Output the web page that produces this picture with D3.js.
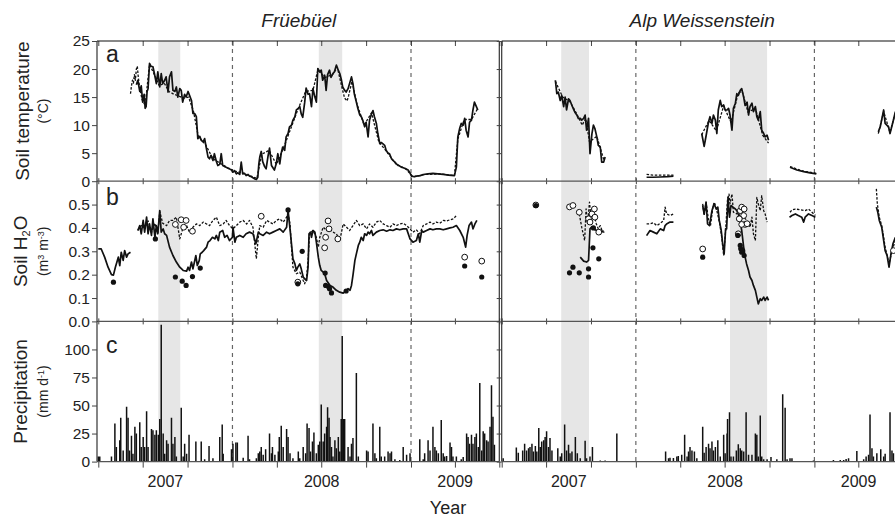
<!DOCTYPE html>
<html lang="en">
<head>
<meta charset="UTF-8">
<title>Soil temperature, soil water and precipitation</title>
<script src="https://d3js.org/d3.v7.min.js"></script>
<style>
    body { margin: 0; background: #fff; }
    svg { display: block; font-family: "Liberation Sans", Arial, sans-serif; }
    .tick text { font-size: 15.5px; fill: #222; }
    .tick line, .domain { stroke: #444; }
</style>
</head>
<body>
<svg id="chart" width="895" height="519"></svg>
<script>
// all x values are days counted from 1 Jan 2007
const sites = ["Früebüel", "Alp Weissenstein"];
const panelLetters = ["a", "b", "c"];
const yearLabels = [2007, 2008, 2009];
const yearBreaks = [365, 731];
const dayDomain = [90, 912];
const tempTicks = [0, 5, 10, 15, 20, 25];
const h2oTicks = [0, 0.1, 0.2, 0.3, 0.4, 0.5];
const rainTicks = [0, 25, 50, 75, 100];
const droughtFru = [[213, 258], [542, 590]];
const droughtWei = [[212, 269], [558, 634]];

// Früebüel soil temperature
const fruTempSolid = [[
    [168, 17.2], [171, 18.0], [175, 16.0], [178, 17.0], [181, 14.1], [184, 15.5], [186, 13.0], [188, 13.3],
    [190, 16.0], [192, 16.5], [195, 21.0], [198, 20.5], [202, 20.4], [205, 19.2], [209, 17.4], [212, 19.5],
    [216, 16.8], [219, 19.2], [222, 17.4], [226, 18.0], [229, 18.6], [233, 15.9], [236, 18.6], [240, 19.5],
    [243, 16.2], [247, 16.0], [250, 16.8], [253, 15.0], [257, 16.5], [260, 16.2], [263, 14.1], [267, 15.5],
    [270, 15.0], [274, 16.0], [277, 15.3], [281, 14.4], [284, 12.1], [288, 12.0], [291, 11.5], [294, 7.6],
    [298, 8.0], [301, 7.3], [305, 7.0], [308, 7.6], [311, 6.1], [315, 4.3], [318, 4.0], [321, 4.6],
    [325, 3.7], [328, 4.9], [332, 3.5], [335, 2.8], [339, 3.0], [342, 4.9], [345, 2.8], [349, 2.6],
    [352, 2.5], [356, 2.3], [359, 2.2], [363, 2.0], [366, 1.6], [369, 1.9], [373, 1.3], [376, 1.5],
    [380, 1.2], [383, 3.4], [386, 1.3], [390, 1.4], [393, 1.0], [397, 1.2], [400, 0.9], [404, 0.8],
    [407, 0.6], [411, 0.4], [414, 0.3], [417, 0.7], [419, 3.0], [421, 4.3], [424, 5.3], [427, 3.5],
    [431, 2.6], [434, 2.2], [438, 4.5], [441, 5.9], [445, 2.8], [448, 2.4], [451, 2.0], [455, 3.2],
    [458, 4.9], [462, 3.1], [465, 5.0], [468, 6.1], [472, 5.5], [475, 7.9], [479, 8.5], [482, 9.7],
    [486, 10.0], [489, 10.9], [493, 11.5], [496, 12.7], [500, 13.0], [503, 13.3], [506, 12.0], [509, 11.4],
    [513, 14.0], [516, 16.6], [520, 15.5], [523, 15.6], [527, 13.3], [530, 16.5], [534, 15.0], [537, 14.1],
    [540, 20.1], [544, 19.5], [547, 19.8], [550, 18.0], [554, 18.9], [557, 16.2], [560, 19.0], [564, 19.8],
    [567, 18.5], [571, 19.2], [574, 19.5], [578, 20.7], [581, 20.0], [585, 19.2], [588, 18.2], [591, 16.8],
    [595, 16.2], [598, 15.9], [602, 16.5], [605, 17.4], [609, 18.6], [612, 17.4], [615, 15.5], [619, 14.1],
    [622, 13.0], [626, 11.8], [629, 11.5], [632, 10.9], [636, 9.7], [639, 10.5], [643, 7.9], [646, 10.9],
    [650, 12.0], [653, 12.6], [656, 11.5], [660, 10.3], [663, 8.5], [667, 6.7], [670, 6.9], [673, 6.7],
    [677, 6.4], [680, 5.5], [684, 5.0], [687, 4.9], [691, 4.0], [694, 3.7], [698, 3.4], [701, 3.1],
    [705, 2.8], [708, 2.7], [711, 2.5], [715, 2.4], [718, 2.3], [721, 2.2], [725, 2.0], [728, 1.6],
    [732, 0.9], [738, 0.8], [742, 0.9], [750, 1.0], [756, 1.2], [766, 1.3], [776, 1.4], [786, 1.3],
    [797, 1.2], [808, 1.1], [820, 1.0], [824, 2.5], [827, 7.9], [831, 9.5], [834, 10.3], [838, 10.0],
    [841, 11.2], [844, 9.1], [848, 7.9], [851, 10.5], [855, 10.9], [858, 12.7], [861, 14.1], [865, 13.3], [868, 12.7]
]];
const fruTempDotted = [[
    [156, 15.6], [158, 17.0], [160, 18.0], [162, 17.5], [164, 19.0], [166, 18.0], [168, 20.0], [170, 20.5],
    [172, 18.5], [175, 16.5], [180, 14.5], [186, 13.5], [195, 20.8], [205, 19.0], [215, 17.0], [225, 17.5],
    [235, 16.0], [245, 15.5], [255, 15.2], [265, 14.8], [275, 15.0], [285, 12.5], [295, 8.0], [310, 6.5],
    [325, 4.0], [340, 3.2], [355, 2.4], [370, 1.8], [385, 1.5], [400, 1.0], [415, 0.5], [425, 4.8],
    [440, 5.5], [455, 3.0], [470, 6.0], [485, 9.5], [500, 13.0], [515, 16.0], [530, 16.2], [540, 19.8],
    [555, 18.5], [570, 19.0], [580, 20.3], [590, 16.5], [595, 14.8], [600, 14.3], [603, 15.2], [610, 17.8],
    [620, 13.8], [635, 10.0], [650, 12.2], [665, 7.0], [680, 5.4], [700, 3.1], [720, 2.2], [735, 0.8],
    [760, 1.2], [790, 1.3], [820, 1.0], [827, 7.5], [840, 11.0], [855, 11.0], [868, 13.0]
]];

// Früebüel soil water
const fruH2OSolid = [[
    [90, 0.31], [96, 0.31], [103, 0.275], [110, 0.232], [117, 0.20], [121, 0.198], [125, 0.232], [131, 0.275],
    [134, 0.239], [137, 0.296], [141, 0.261], [144, 0.303], [148, 0.275], [151, 0.289], [156, 0.296]
], [
    [171, 0.389], [175, 0.41], [178, 0.375], [182, 0.432], [185, 0.382], [189, 0.446], [192, 0.375], [195, 0.417],
    [199, 0.368], [202, 0.439], [206, 0.36], [209, 0.41], [212, 0.375], [216, 0.474], [219, 0.382], [223, 0.396],
    [226, 0.375], [230, 0.368], [236, 0.318], [243, 0.282], [250, 0.254], [257, 0.232], [264, 0.218], [271, 0.215],
    [274, 0.232], [277, 0.218], [281, 0.254], [284, 0.225], [290, 0.282], [293, 0.239], [297, 0.261], [299, 0.289],
    [303, 0.296], [306, 0.303], [312, 0.318], [315, 0.339], [319, 0.346], [324, 0.36], [329, 0.353], [332, 0.368],
    [336, 0.346], [339, 0.382], [345, 0.389], [349, 0.36], [354, 0.368], [359, 0.346], [365, 0.36], [366, 0.403],
    [370, 0.339], [373, 0.36], [380, 0.368], [387, 0.36], [393, 0.375], [400, 0.382], [407, 0.375], [413, 0.332],
    [418, 0.382], [421, 0.375], [428, 0.368], [435, 0.382], [441, 0.375], [448, 0.382], [455, 0.389], [462, 0.396],
    [469, 0.382], [476, 0.403], [479, 0.474], [483, 0.396], [486, 0.332], [489, 0.268], [493, 0.246], [496, 0.218],
    [499, 0.232], [503, 0.246], [506, 0.225], [510, 0.19], [513, 0.182], [517, 0.175], [520, 0.232], [522, 0.375],
    [525, 0.382], [527, 0.36], [530, 0.389], [534, 0.382], [537, 0.339], [541, 0.275], [544, 0.239], [547, 0.218],
    [551, 0.211], [554, 0.204], [558, 0.175], [565, 0.154], [571, 0.147], [578, 0.133], [585, 0.125], [592, 0.121],
    [599, 0.133], [602, 0.14], [606, 0.133], [609, 0.154], [612, 0.197], [616, 0.261], [619, 0.289], [623, 0.325],
    [626, 0.339], [629, 0.36], [633, 0.346], [636, 0.375], [640, 0.368], [643, 0.382], [646, 0.375], [650, 0.389],
    [653, 0.368], [660, 0.382], [667, 0.389], [674, 0.392], [681, 0.386], [688, 0.392], [694, 0.389], [701, 0.396],
    [708, 0.392], [715, 0.396], [722, 0.396], [729, 0.353], [735, 0.339], [742, 0.346], [746, 0.375], [749, 0.339],
    [753, 0.389], [756, 0.382], [763, 0.389], [770, 0.396], [776, 0.392], [783, 0.396], [790, 0.396], [797, 0.392],
    [804, 0.396], [811, 0.4], [817, 0.403], [824, 0.41], [831, 0.389], [838, 0.36], [843, 0.318], [846, 0.368],
    [850, 0.41], [855, 0.425], [858, 0.396], [862, 0.417], [866, 0.432]
]];
const fruH2ODotted = [[
    [171, 0.39], [178, 0.41], [185, 0.40], [192, 0.43], [199, 0.38], [206, 0.42], [212, 0.38], [216, 0.47],
    [222, 0.42], [230, 0.41], [236, 0.432], [243, 0.432], [250, 0.446], [257, 0.353], [264, 0.403], [271, 0.41],
    [277, 0.382], [284, 0.403], [291, 0.417], [298, 0.41], [305, 0.425], [312, 0.417], [318, 0.41], [325, 0.432],
    [332, 0.446], [339, 0.41], [346, 0.417], [352, 0.432], [359, 0.41], [366, 0.396], [373, 0.41], [380, 0.425],
    [387, 0.432], [394, 0.417], [400, 0.432], [407, 0.403], [414, 0.268], [418, 0.36], [421, 0.41], [428, 0.403],
    [435, 0.432], [441, 0.425], [448, 0.417], [455, 0.432], [462, 0.439], [469, 0.425], [476, 0.446], [479, 0.46],
    [483, 0.417], [486, 0.318], [489, 0.232], [496, 0.204], [503, 0.211], [510, 0.175], [513, 0.161], [517, 0.19],
    [520, 0.261], [523, 0.375], [530, 0.389], [537, 0.36], [541, 0.318], [544, 0.36], [551, 0.403], [558, 0.389],
    [564, 0.396], [571, 0.382], [578, 0.375], [585, 0.346], [592, 0.417], [599, 0.403], [605, 0.389], [612, 0.41],
    [619, 0.432], [626, 0.41], [633, 0.417], [640, 0.396], [646, 0.417], [653, 0.403], [660, 0.425], [667, 0.432],
    [674, 0.417], [681, 0.41], [688, 0.403], [694, 0.417], [701, 0.41], [708, 0.417], [715, 0.42], [722, 0.41],
    [729, 0.396], [735, 0.382], [742, 0.392], [749, 0.375], [756, 0.41], [763, 0.417], [770, 0.425], [776, 0.417],
    [783, 0.425], [790, 0.42], [797, 0.432], [804, 0.43], [811, 0.435], [818, 0.439], [824, 0.453]
]];
const fruH2OFilled = [
    [121, 0.168], [207, 0.353], [248, 0.19], [262, 0.172], [270, 0.154], [283, 0.192], [299, 0.228], [479, 0.477],
    [499, 0.161], [508, 0.30], [555, 0.207], [556, 0.154], [561, 0.15], [564, 0.14], [568, 0.122], [598, 0.13],
    [841, 0.237], [876, 0.19]
];
const fruH2OOpen = [
    [248, 0.415], [260, 0.435], [265, 0.403], [270, 0.432], [283, 0.386], [424, 0.45], [499, 0.168], [554, 0.315],
    [556, 0.36], [561, 0.43], [563, 0.396], [581, 0.353], [841, 0.275], [876, 0.258]
];

// Früebüel precipitation, mm per day
const fruRain = [
    [90, 4.5], [93, 4.5], [117, 4.5], [124, 34], [127, 13], [134, 19], [136, 39], [141, 10], [148, 49], [151, 39],
    [154, 10], [158, 23], [161, 7], [165, 31], [168, 25], [175, 35], [178, 13], [182, 22], [185, 13], [189, 45],
    [192, 13], [199, 29], [202, 28], [206, 24], [209, 28], [213, 24], [216, 38], [219, 122], [223, 25], [226, 7],
    [230, 19], [233, 16], [240, 39], [243, 16], [247, 22], [250, 4.5], [260, 48], [264, 4.5], [267, 16], [271, 7],
    [276, 24], [290, 18], [301, 18], [308, 2], [317, 14], [325, 3], [339, 22], [344, 33], [346, 7], [363, 11],
    [366, 16], [372, 17], [375, 17], [387, 3.5], [397, 23], [400, 2], [414, 3], [418, 7.4], [421, 9], [424, 13],
    [428, 6], [433, 11], [441, 25], [445, 7.4], [447, 13], [452, 6], [459, 9], [461, 22], [465, 32], [469, 13],
    [476, 29], [479, 22], [483, 7.4], [489, 3], [500, 9], [503, 3], [510, 13], [515, 7.4], [518, 34], [522, 30],
    [525, 9], [529, 18], [532, 26], [537, 7.4], [541, 15], [544, 18], [547, 51], [551, 18], [554, 25], [558, 31],
    [560, 48.5], [563, 39], [565, 22], [568, 13], [571, 4.5], [575, 19], [578, 12], [582, 22], [585, 9], [588, 38],
    [590, 112], [593, 38], [595, 38], [602, 13], [606, 4.5], [609, 16], [612, 21], [619, 79], [623, 4.5], [640, 10],
    [643, 9], [653, 34], [657, 7.4], [660, 3], [667, 31], [670, 4.5], [677, 4.5], [684, 9], [688, 7.4], [691, 9],
    [698, 2], [708, 1.5], [715, 13], [722, 6], [729, 7.4], [749, 20], [756, 2], [759, 7.4], [766, 19], [770, 10],
    [776, 31], [780, 13], [783, 10], [787, 7.4], [793, 37], [797, 7.4], [800, 4.5], [804, 5], [811, 17], [814, 13],
    [817, 4.5], [824, 4.5], [834, 2], [838, 4], [845, 25], [848, 22], [851, 16], [855, 24], [858, 16], [862, 22],
    [865, 25], [869, 13], [872, 70], [876, 10], [879, 27], [882, 25], [886, 19], [889, 18], [893, 31], [896, 68],
    [899, 40], [902, 15]
];

// Alp Weissenstein soil temperature
const weiTempSolid = [[
    [200, 18.0], [203, 15.6], [206, 15.9], [210, 14.4], [213, 15.3], [217, 13.3], [220, 15.0], [223, 12.7],
    [227, 14.7], [230, 14.4], [234, 13.5], [237, 12.9], [240, 12.3], [244, 11.8], [247, 11.2], [251, 11.2],
    [254, 10.9], [258, 11.2], [261, 11.8], [264, 9.1], [268, 11.2], [271, 4.9], [275, 8.5], [278, 10.0],
    [281, 9.4], [285, 7.9], [288, 6.4], [292, 6.1], [295, 3.4], [299, 3.4], [302, 4.3]
], [
    [387, 0.7], [400, 0.7], [415, 0.75], [430, 0.8], [442, 0.9]
], [
    [500, 8.5], [505, 6.2], [509, 8.1], [514, 10.6], [517, 11.5], [521, 10.3], [524, 11.8], [528, 10.9],
    [531, 8.5], [534, 12.7], [538, 14.4], [541, 13.3], [545, 13.6], [548, 12.7], [552, 12.7], [555, 13.0],
    [558, 11.8], [562, 9.1], [565, 13.0], [569, 13.9], [572, 15.6], [575, 15.3], [579, 16.2], [582, 16.5],
    [586, 15.0], [589, 13.5], [593, 14.1], [596, 11.8], [599, 13.3], [603, 13.9], [606, 12.4], [610, 13.3],
    [613, 11.5], [616, 10.9], [620, 12.4], [623, 9.1], [627, 8.5], [630, 7.9], [634, 8.2], [637, 7.3]
], [
    [681, 2.5], [695, 2.0], [709, 1.7], [722, 1.5], [735, 1.3]
], [
    [862, 8.8], [866, 9.7], [873, 12.7], [876, 10.3], [883, 9.7], [886, 8.5], [893, 10.9], [897, 12.4]
]];
const weiTempDotted = [[
    [200, 17.8], [215, 15.0], [230, 14.2], [245, 11.8], [255, 10.0], [262, 11.2], [270, 7.0], [285, 8.0], [300, 3.6]
], [
    [387, 1.2], [400, 1.1], [415, 1.1], [430, 1.1], [442, 1.1]
], [
    [500, 8.3], [515, 10.8], [530, 9.0], [545, 13.4], [560, 10.5], [575, 15.8], [583, 16.0], [595, 12.3],
    [610, 13.0], [625, 8.2], [637, 6.8]
], [
    [681, 2.6], [708, 1.8], [735, 1.4]
], [
    [862, 8.5], [873, 12.4], [886, 8.7], [897, 12.2]
]];

// Alp Weissenstein soil water
const weiH2OSolid = [[
    [251, 0.275], [258, 0.258], [264, 0.254], [268, 0.261], [271, 0.396], [275, 0.406], [278, 0.396], [285, 0.389],
    [292, 0.386], [299, 0.386]
], [
    [387, 0.367], [394, 0.389], [401, 0.382], [408, 0.375], [415, 0.396], [422, 0.389], [425, 0.41], [428, 0.417],
    [435, 0.425], [442, 0.425]
], [
    [502, 0.496], [505, 0.46], [509, 0.51], [512, 0.417], [516, 0.41], [521, 0.474], [525, 0.503], [530, 0.481],
    [533, 0.489], [536, 0.432], [540, 0.389], [543, 0.332], [546, 0.289], [549, 0.396], [551, 0.396], [554, 0.531],
    [557, 0.446], [560, 0.496], [564, 0.489], [569, 0.481], [572, 0.474], [575, 0.46], [579, 0.425], [582, 0.389],
    [586, 0.318], [589, 0.275], [592, 0.246], [596, 0.218], [599, 0.19], [603, 0.175], [606, 0.154], [610, 0.133],
    [613, 0.104], [616, 0.075], [620, 0.097], [623, 0.09], [627, 0.104], [630, 0.09], [634, 0.104], [637, 0.09]
], [
    [680, 0.446], [685, 0.453], [692, 0.46], [698, 0.453], [705, 0.446], [709, 0.425], [712, 0.446], [719, 0.46],
    [726, 0.453], [733, 0.446]
], [
    [858, 0.489], [861, 0.467], [864, 0.432], [869, 0.403], [873, 0.346], [876, 0.303], [880, 0.282], [884, 0.232],
    [888, 0.289], [892, 0.332], [897, 0.36]
]];
const weiH2ODotted = [[
    [249, 0.46], [254, 0.403], [260, 0.346], [263, 0.481], [266, 0.417], [270, 0.51], [273, 0.446], [278, 0.467],
    [284, 0.417], [288, 0.396], [292, 0.41], [297, 0.382], [302, 0.382]
], [
    [387, 0.417], [394, 0.417], [401, 0.422], [408, 0.41], [415, 0.42], [422, 0.432], [425, 0.489], [428, 0.46],
    [435, 0.453], [442, 0.46]
], [
    [502, 0.503], [505, 0.453], [509, 0.51], [514, 0.432], [518, 0.41], [523, 0.489], [526, 0.51], [531, 0.474],
    [537, 0.417], [541, 0.36], [545, 0.282], [549, 0.389], [553, 0.524], [556, 0.545], [558, 0.503], [562, 0.545],
    [565, 0.467], [572, 0.46], [575, 0.474], [579, 0.432], [586, 0.446], [593, 0.432], [599, 0.403], [603, 0.446],
    [606, 0.375], [610, 0.346], [613, 0.531], [616, 0.503], [620, 0.474], [623, 0.538], [627, 0.474], [630, 0.46],
    [634, 0.425]
], [
    [681, 0.467], [685, 0.477], [692, 0.481], [702, 0.478], [712, 0.474], [719, 0.481], [726, 0.467], [733, 0.453]
], [
    [858, 0.567], [860, 0.503], [864, 0.446], [869, 0.41], [873, 0.36], [876, 0.318], [881, 0.275], [884, 0.246],
    [890, 0.303], [897, 0.346]
]];
const weiH2OFilled = [
    [160, 0.496], [229, 0.208], [236, 0.232], [249, 0.208], [268, 0.225], [268, 0.19], [277, 0.315], [278, 0.4],
    [289, 0.268], [502, 0.275], [574, 0.368], [579, 0.325], [580, 0.311], [582, 0.296], [584, 0.303], [587, 0.282]
];
const weiH2OOpen = [
    [160, 0.498], [229, 0.49], [236, 0.496], [249, 0.467], [268, 0.439], [271, 0.425], [275, 0.46], [280, 0.481],
    [281, 0.446], [289, 0.382], [502, 0.31], [575, 0.375], [579, 0.474], [582, 0.489], [586, 0.453], [589, 0.415],
    [582, 0.415], [577, 0.439], [587, 0.481], [593, 0.418], [893, 0.303]
];

// Alp Weissenstein precipitation, mm per day
const weiRain = [
    [93, 3], [120, 12.5], [124, 8], [133, 10], [137, 16], [141, 10], [145, 12], [148, 13], [152, 16], [155, 9],
    [159, 14], [162, 9], [166, 30], [169, 13], [172, 18], [176, 19], [179, 22], [182, 27], [186, 13], [189, 21],
    [193, 10], [205, 12], [210, 4.5], [213, 7.4], [219, 33], [223, 10], [227, 15], [230, 7.4], [234, 9], [241, 22],
    [245, 7.4], [251, 3], [261, 18.5], [264, 3], [271, 4.5], [276, 13], [292, 1], [302, 1], [326, 25], [340, 0.5],
    [426, 9], [432, 3], [435, 3.5], [442, 3.3], [449, 4.5], [452, 5], [459, 6], [465, 24], [470, 4.5], [473, 9],
    [476, 13], [480, 10], [485, 9], [490, 3], [502, 31], [505, 8], [509, 13], [514, 16], [517, 12], [521, 18],
    [524, 10], [528, 13], [533, 19], [538, 4.5], [545, 24], [548, 7.4], [552, 25], [553, 38], [557, 44], [560, 4.5],
    [565, 4.5], [571, 10], [575, 15.5], [579, 12], [582, 10], [586, 9], [591, 44], [596, 6], [603, 6], [610, 25],
    [613, 24], [616, 4.5], [620, 41], [623, 4.5], [627, 2], [634, 2], [642, 4], [654, 2], [666, 60], [671, 48],
    [675, 2], [681, 3], [685, 3], [729, 1], [770, 1.5], [784, 1.5], [791, 1.5], [796, 2.4], [801, 3], [818, 9.5],
    [832, 2], [837, 4.5], [842, 6], [845, 42], [849, 12], [852, 4.5], [859, 7.4], [867, 11], [873, 4.5], [876, 7],
    [886, 44], [890, 10], [893, 7.4]
];

const siteData = [
    { name: sites[0], bands: droughtFru, tempSolid: fruTempSolid, tempDotted: fruTempDotted,
      h2oSolid: fruH2OSolid, h2oDotted: fruH2ODotted, filled: fruH2OFilled, open: fruH2OOpen, rain: fruRain },
    { name: sites[1], bands: droughtWei, tempSolid: weiTempSolid, tempDotted: weiTempDotted,
      h2oSolid: weiH2OSolid, h2oDotted: weiH2ODotted, filled: weiH2OFilled, open: weiH2OOpen, rain: weiRain }
];

// layout
const svg = d3.select("#chart");
const plotTop = 41, rowH = 140.2, plotBottom = plotTop + 3 * rowH;
const cols = [
    { axisX: 97, x0: 98.3, x1: 499.3 },
    { axisX: 501.7, x0: 501.7, x1: 902.7 }
];
const dayToDate = d => new Date(Date.UTC(2007, 0, 1) + d * 864e5);

const yTemp = d3.scaleLinear().domain([0, 25]).range([plotTop + rowH, plotTop]);
const yH2O = d3.scaleLinear().domain([0, 0.6]).range([plotTop + 2 * rowH, plotTop + rowH]);
const yRain = d3.scaleLinear().domain([0, 125]).range([plotBottom, plotTop + 2 * rowH]);

siteData.forEach((site, i) => {
    const c = cols[i];
    const x = d3.scaleUtc().domain(dayDomain.map(dayToDate)).range([c.x0, c.x1]);
    const xd = d => x(dayToDate(d));
    const g = svg.append("g");

    const clipId = "clip" + i;
    svg.append("clipPath").attr("id", clipId)
        .append("rect")
        .attr("x", c.axisX).attr("y", plotTop)
        .attr("width", c.x1 - c.axisX).attr("height", plotBottom - plotTop);

    const plot = g.append("g").attr("clip-path", `url(#${clipId})`);

    // drought periods
    plot.selectAll(".band").data(site.bands).join("rect")
        .attr("x", d => xd(d[0]))
        .attr("width", d => xd(d[1]) - xd(d[0]))
        .attr("y", plotTop).attr("height", plotBottom - plotTop)
        .attr("fill", "#e6e6e6");

    // year breaks
    plot.selectAll(".brk").data(yearBreaks).join("line")
        .attr("x1", d => xd(d)).attr("x2", d => xd(d))
        .attr("y1", plotTop).attr("y2", plotBottom)
        .attr("stroke", "#666").attr("stroke-width", 1.2)
        .attr("stroke-dasharray", "4,4");

    // precipitation bars
    plot.selectAll(".rain").data(site.rain).join("line")
        .attr("x1", d => xd(d[0])).attr("x2", d => xd(d[0]))
        .attr("y1", yRain(0)).attr("y2", d => yRain(d[1]))
        .attr("stroke", "#111").attr("stroke-width", 1.5);

    // lines
    const drawLines = (segs, y, dotted) => {
        const line = d3.line().x(d => xd(d[0])).y(d => y(d[1]));
        plot.append("g").selectAll("path").data(segs).join("path")
            .attr("d", line)
            .attr("fill", "none")
            .attr("stroke", "#111")
            .attr("stroke-width", dotted ? 1.3 : 1.7)
            .attr("stroke-linejoin", "round")
            .attr("stroke-dasharray", dotted ? "2.5,1.6" : null);
    };
    drawLines(site.tempDotted, yTemp, true);
    drawLines(site.tempSolid, yTemp, false);
    drawLines(site.h2oDotted, yH2O, true);
    drawLines(site.h2oSolid, yH2O, false);

    // sampled soil water
    plot.append("g").selectAll("circle").data(site.open).join("circle")
        .attr("cx", d => xd(d[0])).attr("cy", d => yH2O(d[1]))
        .attr("r", 2.9).attr("fill", "#fff").attr("stroke", "#111").attr("stroke-width", 1);
    plot.append("g").selectAll("circle").data(site.filled).join("circle")
        .attr("cx", d => xd(d[0])).attr("cy", d => yH2O(d[1]))
        .attr("r", 2.6).attr("fill", "#111");

    // frame and x ticks
    const qTicks = d3.utcMonth.every(3).range(dayToDate(dayDomain[0]), dayToDate(dayDomain[1] + 1));
    g.append("g").attr("transform", `translate(0,${plotTop})`)
        .call(d3.axisBottom(x).tickValues(qTicks).tickSize(5).tickFormat(""))
        .call(s => s.select(".domain").remove());
    [plotTop + rowH, plotTop + 2 * rowH].forEach(yy => {
        g.append("g").attr("transform", `translate(0,${yy})`)
            .call(d3.axisBottom(x).tickValues(qTicks).tickSize(3).tickFormat(""))
            .call(s => s.select(".domain").remove());
        g.append("g").attr("transform", `translate(0,${yy})`)
            .call(d3.axisTop(x).tickValues(qTicks).tickSize(3).tickFormat(""))
            .call(s => s.select(".domain").remove());
    });
    g.append("g").attr("transform", `translate(0,${plotBottom})`)
        .call(d3.axisBottom(x).tickValues(qTicks).tickSize(6).tickFormat(""))
        .call(s => s.select(".domain").remove());

    const right = Math.min(c.x1, 895);
    [plotTop, plotTop + rowH, plotTop + 2 * rowH, plotBottom].forEach((yy, k) => {
        g.append("line").attr("x1", c.axisX).attr("x2", right).attr("y1", yy).attr("y2", yy)
            .attr("stroke", k === 0 ? "#111" : "#555").attr("stroke-width", 1.2);
    });
    g.append("line").attr("x1", c.axisX).attr("x2", c.axisX).attr("y1", plotTop).attr("y2", plotBottom)
        .attr("stroke", "#333").attr("stroke-width", 1.2);
    if (i === 0) {
        g.append("line").attr("x1", c.x1).attr("x2", c.x1).attr("y1", plotTop).attr("y2", plotBottom)
            .attr("stroke", "#333").attr("stroke-width", 1.2);
    }

    // y axes
    const labelled = i === 0;
    const yAxes = [
        [yTemp, tempTicks, d3.format("d")],
        [yH2O, h2oTicks, d3.format(".1f")],
        [yRain, rainTicks, d3.format("d")]
    ];
    yAxes.forEach(([y, ticks, fmt]) => {
        g.append("g").attr("transform", `translate(${c.axisX},0)`)
            .call(d3.axisLeft(y).tickValues(ticks).tickSize(5).tickPadding(2)
                .tickFormat(labelled ? fmt : ""))
            .call(s => s.select(".domain").remove());
    });

    // year labels centred on the visible part of each year
    yearLabels.forEach(yr => {
        const s = Math.max(x(new Date(Date.UTC(yr, 0, 1))), c.x0);
        const e = Math.min(x(new Date(Date.UTC(yr + 1, 0, 1))), c.x1);
        g.append("text").attr("x", (s + e) / 2).attr("y", 487)
            .attr("text-anchor", "middle").attr("font-size", 16).attr("fill", "#222")
            .text(yr);
    });

    // site title
    svg.append("text").attr("x", (c.x0 + c.x1) / 2).attr("y", 27)
        .attr("text-anchor", "middle").attr("font-size", 19).attr("font-style", "italic")
        .attr("fill", "#222").text(site.name);
});

// panel letters
const letterY = [62, 205, 353];
panelLetters.forEach((l, k) => {
    svg.append("text").attr("x", 106).attr("y", letterY[k])
        .attr("font-size", 23).attr("fill", "#222").text(l);
});

// y titles
const yTitle = (cy, bx, parts, ux, unitParts) => {
    const t = svg.append("text").attr("transform", `translate(${bx},${cy}) rotate(-90)`)
        .attr("text-anchor", "middle").attr("font-size", 19).attr("fill", "#222");
    parts.forEach(p => t.append("tspan").attr("baseline-shift", p.sub ? "-25%" : null)
        .attr("font-size", p.sub ? 11 : null).text(p.t));
    const u = svg.append("text").attr("transform", `translate(${ux},${cy}) rotate(-90)`)
        .attr("text-anchor", "middle").attr("font-size", 14).attr("fill", "#222");
    unitParts.forEach(p => u.append("tspan").attr("baseline-shift", p.sup ? "40%" : null)
        .attr("font-size", p.sup ? 9 : null).text(p.t));
};
yTitle(plotTop + rowH / 2, 29, [{ t: "Soil temperature" }], 48, [{ t: "(°C)" }]);
yTitle(plotTop + 1.5 * rowH, 27, [{ t: "Soil H" }, { t: "2", sub: true }, { t: "O" }], 48,
    [{ t: "(m" }, { t: "3", sup: true }, { t: " m" }, { t: "-3", sup: true }, { t: ")" }]);
yTitle(plotTop + 2.5 * rowH, 27, [{ t: "Precipitation" }], 48,
    [{ t: "(mm d" }, { t: "-1", sup: true }, { t: ")" }]);

svg.append("text").attr("x", 448).attr("y", 514).attr("text-anchor", "middle")
    .attr("font-size", 18).attr("fill", "#222").text("Year");
</script>
</body>
</html>
